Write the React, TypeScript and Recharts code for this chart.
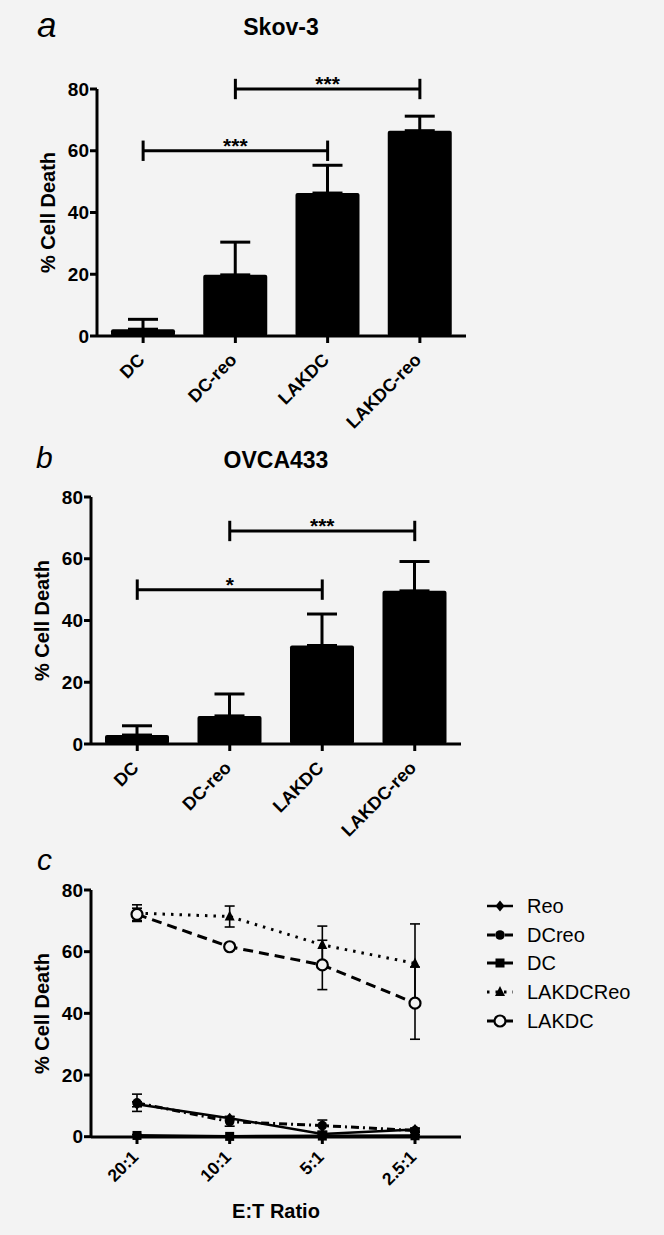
import React from "react";
import { BarChart, Bar, XAxis, YAxis, ErrorBar, ReferenceLine, LineChart, Line, Legend, Label } from "recharts";

const BG = "#f3f3f3";
const FONT = '"Liberation Sans", Arial, Helvetica, sans-serif';

const groups = ["DC", "DC-reo", "LAKDC", "LAKDC-reo"];
const yTicks = [0, 20, 40, 60, 80];

// a: Skov-3, mean + SEM (upper whisker only)
const skovMean = [2.2, 19.8, 46.3, 66.5];
const skovErr = [3.2, 10.6, 9.0, 4.7];
const skovBrackets = [
  { from: "DC", to: "LAKDC", y: 60, mark: "***" },
  { from: "DC-reo", to: "LAKDC-reo", y: 80, mark: "***" },
];

// b: OVCA433
const ovcaMean = [2.9, 9.1, 31.9, 49.6];
const ovcaErr = [3.0, 7.1, 10.2, 9.5];
const ovcaBrackets = [
  { from: "DC", to: "LAKDC", y: 50, mark: "*" },
  { from: "DC-reo", to: "LAKDC-reo", y: 69, mark: "***" },
];

// c: E:T ratio titration
const ratios = ["20:1", "10:1", "5:1", "2.5:1"];
const reo = [10.5, 6.0, 0.9, 2.3];
const reoErr = [0.8, 0.6, 0.5, 0.5];
const dcReo = [11.0, 4.9, 3.6, 2.0];
const dcReoErr = [2.8, 1.5, 1.8, 0.6];
const dc = [0.4, 0.1, 0.2, 0.3];
const dcErr = [0.3, 0.2, 0.3, 0.3];
const lakdcReo = [72.5, 71.4, 62.2, 56.2];
const lakdcReoErr = [2.7, 3.4, 6.1, 12.8];
const lakdc = [72.1, 61.6, 55.7, 43.3];
const lakdcErr = [2.0, 1.0, 8.0, 11.7];

const series = [
  { key: "reo", name: "Reo", shape: "diamond", dash: undefined, width: 2.5 },
  { key: "dcReo", name: "DCreo", shape: "circle", dash: "8 4 2 4", width: 3 },
  { key: "dc", name: "DC", shape: "square", dash: undefined, width: 3 },
  { key: "lakdcReo", name: "LAKDCReo", shape: "triangle", dash: "2.5 6", width: 3 },
  { key: "lakdc", name: "LAKDC", shape: "open", dash: "10 6", width: 3 },
];

const barData = (mean: number[], err: number[]) =>
  groups.map((g, i) => ({ group: g, value: mean[i], err: [0, err[i]] }));

const lineData = ratios.map((r, i) => ({
  ratio: r,
  reo: reo[i], reoErr: reoErr[i],
  dcReo: dcReo[i], dcReoErr: dcReoErr[i],
  dc: dc[i], dcErr: dcErr[i],
  lakdcReo: lakdcReo[i], lakdcReoErr: lakdcReoErr[i],
  lakdc: lakdc[i], lakdcErr: lakdcErr[i],
}));

const axisStyle = { stroke: "#000", strokeWidth: 3 };
const yTickStyle = { fill: "#000", fontSize: 19, fontWeight: "bold" };

function Marker({ shape, cx, cy }: any) {
  switch (shape) {
    case "diamond":
      return <path d={`M${cx},${cy - 5.5}L${cx + 4.5},${cy}L${cx},${cy + 5.5}L${cx - 4.5},${cy}Z`} fill="#000" />;
    case "circle":
      return <circle cx={cx} cy={cy} r={4.8} fill="#000" />;
    case "square":
      return <rect x={cx - 4.5} y={cy - 4.5} width={9} height={9} fill="#000" />;
    case "triangle":
      return <path d={`M${cx},${cy - 6}L${cx + 5},${cy + 4}L${cx - 5},${cy + 4}Z`} fill="#000" />;
    default:
      return <circle cx={cx} cy={cy} r={5.5} fill={BG} stroke="#000" strokeWidth={2.2} />;
  }
}

const SlantTick = (props: any) => {
  const { x, y, payload, fs, off } = props;
  return (
    <g transform={`translate(${x + 2.5},${y + off})`}>
      <text textAnchor="end" transform="rotate(-45)" fontSize={fs} fontWeight="bold" fill="#000">
        {payload.value}
      </text>
    </g>
  );
};

const YTitle = ({ viewBox }: any) => {
  const cx = viewBox.x + viewBox.width - 49;
  const cy = viewBox.y + viewBox.height / 2;
  return (
    <text x={cx} y={cy} dy="0.36em" transform={`rotate(-90 ${cx} ${cy})`} textAnchor="middle" fontSize={20} fontWeight="bold" fill="#000">
      % Cell Death
    </text>
  );
};

function BarPanel({ data, brackets, top, height, yw, mt, mr, xh }: any) {
  return (
    <div style={{ position: "absolute", left: 0, top, width: 664, height }}>
      <BarChart width={664} height={height} data={data} margin={{ top: mt, right: mr, bottom: 0, left: 0 }}>
        <XAxis
          dataKey="group"
          height={xh}
          axisLine={axisStyle}
          tickLine={axisStyle}
          tickSize={7}
          tickMargin={2}
          interval={0}
          tick={(p: any) => <SlantTick {...p} fs={18} off={16} />}
        />
        <YAxis
          width={yw}
          domain={[0, 80]}
          ticks={yTicks}
          axisLine={axisStyle}
          tickLine={axisStyle}
          tickSize={7}
          tickMargin={1}
          tick={yTickStyle}
        >
          <Label content={<YTitle />} />
        </YAxis>
        <Bar dataKey="value" fill="#000" barSize={64} radius={2} isAnimationActive={false}>
          <ErrorBar dataKey="err" direction="y" width={15} strokeWidth={3} stroke="#000" />
        </Bar>
        {brackets.map((b: any) => (
          <ReferenceLine
            key={`h-${b.from}`}
            segment={[{ x: b.from, y: b.y }, { x: b.to, y: b.y }]}
            stroke="#000"
            strokeWidth={3}
            ifOverflow="visible"
            label={{ value: b.mark, position: "top", offset: -2, fill: "#000", fontSize: 21, fontWeight: "bold" }}
          />
        ))}
        {brackets.flatMap((b: any) =>
          [b.from, b.to].map((end) => (
            <ReferenceLine
              key={`v-${b.from}-${end}`}
              segment={[{ x: end, y: b.y - 3.3 }, { x: end, y: b.y + 3.3 }]}
              stroke="#000"
              strokeWidth={3}
              ifOverflow="visible"
            />
          ))
        )}
      </BarChart>
    </div>
  );
}

const LegendBox = () => (
  <div style={{ fontFamily: FONT }}>
    {series.map((s) => (
      <div key={s.name} style={{ height: 28.6, display: "flex", alignItems: "center" }}>
        <svg width={28} height={20}>
          <line x1={1} x2={27} y1={10} y2={10} stroke="#000" strokeWidth={s.width} strokeDasharray={s.dash} />
          <Marker shape={s.shape} cx={14} cy={10} />
        </svg>
        <span style={{ marginLeft: 13, fontSize: 20, color: "#000", lineHeight: "20px" }}>{s.name}</span>
      </div>
    ))}
  </div>
);

function LinePanel() {
  return (
    <div style={{ position: "absolute", left: 0, top: 840, width: 664, height: 395 }}>
      <LineChart width={664} height={395} data={lineData} margin={{ top: 50, right: 203, bottom: 0, left: 0 }}>
        <XAxis
          dataKey="ratio"
          height={98}
          padding={{ left: 46, right: 46 }}
          axisLine={axisStyle}
          tickLine={axisStyle}
          tickSize={7}
          tickMargin={2}
          interval={0}
          tick={(p: any) => <SlantTick {...p} fs={17.5} off={12} />}
        >
          <Label value="E:T Ratio" position="insideBottom" offset={17} fill="#000" fontSize={20} fontWeight="bold" />
        </XAxis>
        <YAxis
          width={91}
          domain={[0, 80]}
          ticks={yTicks}
          axisLine={axisStyle}
          tickLine={axisStyle}
          tickSize={7}
          tickMargin={1}
          tick={yTickStyle}
        >
          <Label content={<YTitle />} />
        </YAxis>
        <Legend
          layout="vertical"
          align="center"
          verticalAlign="middle"
          content={<LegendBox />}
          wrapperStyle={{ left: 486, top: 52, width: 170, height: 145 }}
        />
        {series.map((s) => (
          <Line
            key={s.key}
            dataKey={s.key}
            name={s.name}
            stroke="#000"
            strokeWidth={s.width}
            strokeDasharray={s.dash}
            isAnimationActive={false}
            dot={(p: any) => <Marker key={`${s.key}-${p.index}`} shape={s.shape} cx={p.cx} cy={p.cy} />}
            activeDot={false}
          >
            <ErrorBar dataKey={`${s.key}Err`} direction="y" width={5} strokeWidth={1.6} stroke="#000" />
          </Line>
        ))}
      </LineChart>
    </div>
  );
}

export default function App() {
  return (
    <div style={{ position: "absolute", left: 0, top: 0, width: 664, height: 1235, background: BG, fontFamily: FONT, overflow: "hidden" }}>
      <BarPanel data={barData(skovMean, skovErr)} brackets={skovBrackets} top={0} height={440} yw={97} mt={89} mr={198} xh={104} />
      <BarPanel data={barData(ovcaMean, ovcaErr)} brackets={ovcaBrackets} top={440} height={400} yw={91} mt={57} mr={203} xh={96} />
      <LinePanel />
      <svg width={664} height={1235} style={{ position: "absolute", left: 0, top: 0, pointerEvents: "none" }}>
        <text x={37} y={37} fontSize={35} fontStyle="italic" fill="#000">a</text>
        <text x={281} y={35} fontSize={23} fontWeight="bold" textAnchor="middle" fill="#000">Skov-3</text>
        <text x={36} y={468} fontSize={30} fontStyle="italic" fill="#000">b</text>
        <text x={276} y={468} fontSize={23} fontWeight="bold" textAnchor="middle" fill="#000">OVCA433</text>
        <text x={37} y={870} fontSize={30} fontStyle="italic" fill="#000">c</text>
      </svg>
    </div>
  );
}
